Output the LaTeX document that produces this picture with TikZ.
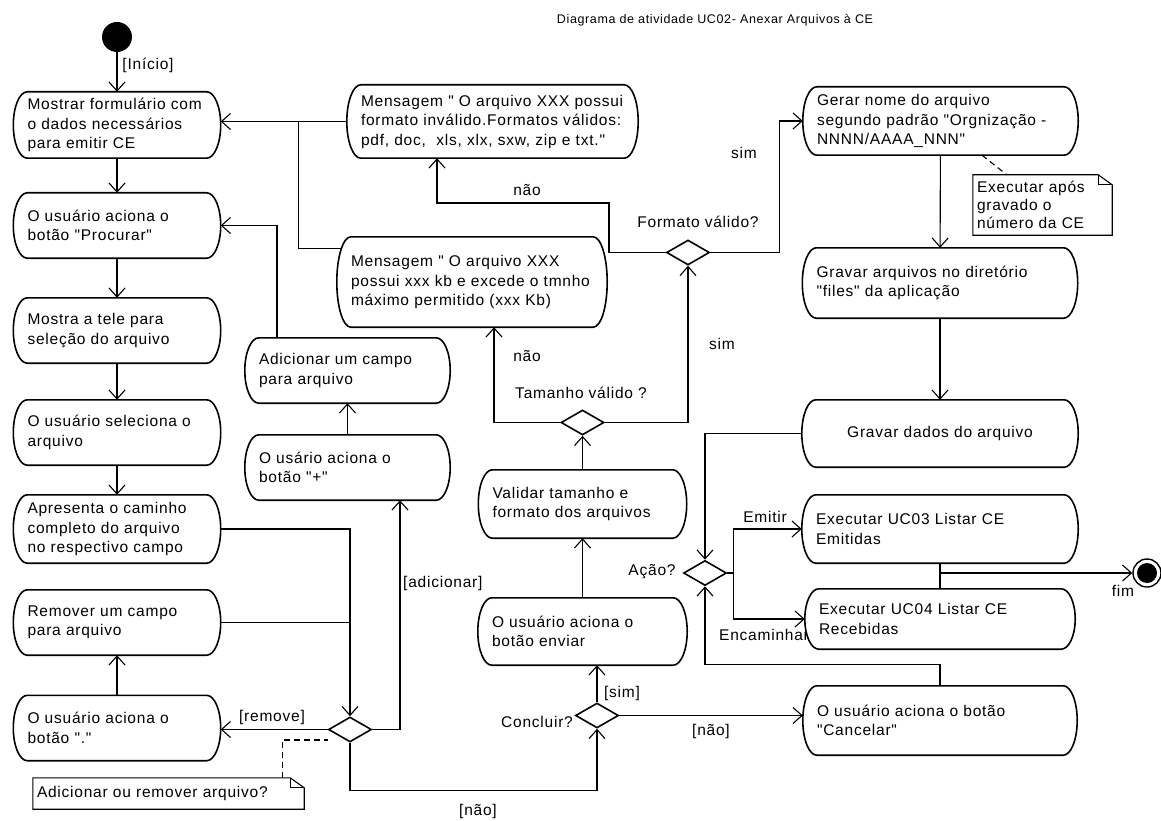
\documentclass[tikz,border=0pt]{standalone}
\usepackage{fontspec}
\setmainfont{Liberation Sans}[LetterSpace=5, Ligatures=TeXOff]
\usetikzlibrary{arrows.meta,shapes.geometric,calc}
\newcommand\boxfont{\fontsize{15.5pt}{19.5pt}\selectfont}
\newcommand\notefont{\fontsize{15.5pt}{18pt}\selectfont}
\newcommand\titlefont{\fontsize{12.5pt}{15pt}\selectfont}
\pgfdeclarelayer{under}
\pgfdeclarelayer{boxes}
\pgfsetlayers{under,boxes,main}

\begin{document}
\begin{tikzpicture}[x=1pt,y=-1pt,
  act/.style={font=\boxfont, align=left, inner xsep=14pt, inner ysep=0pt},
  actline/.style={draw, line width=1.6pt, fill=white},
  dec/.style={draw, diamond, line width=1.6pt, fill=white, minimum width=43pt,
    minimum height=25pt, inner sep=0pt},
  flow/.style={line width=1.1pt, -{Straight Barb[length=9pt,width=16pt]}},
  link/.style={line width=1.1pt},
  lbl/.style={font=\boxfont, inner sep=0pt},
  notebox/.style={font=\notefont, inner xsep=4pt, inner ysep=0pt, align=left},
  noteline/.style={line width=1.1pt},
  anchorline/.style={line width=1.1pt, dash pattern=on 6pt off 4pt}
]
% canvas
\begin{pgfonlayer}{under}
\fill[white] (0,0) rectangle (1161,821);
% label partly hidden behind the UC04 action
\node[lbl, anchor=west] (lenc) at (719,635) {Encaminhar};
\end{pgfonlayer}
\useasboundingbox (0,0) rectangle (1161,821);

\node[font=\titlefont, inner sep=0pt] (title) at (715,20) {Diagrama de atividade UC02- Anexar Arquivos à CE};

% initial and final nodes
\node[circle, fill=black, minimum size=30pt, inner sep=0pt] (start) at (117,37) {};
\node[circle, draw, line width=1.4pt, fill=white, minimum size=28pt, inner sep=0pt] (fin) at (1147,573) {};
\fill (fin.center) circle (10pt);

% left column
\node[act, text width=179pt, minimum height=66pt] (b1) at (117,125) {Mostrar formulário com\\o dados necessários\\para emitir CE};
\node[act, text width=179pt, minimum height=65pt] (b2) at (117,225.5) {O usuário aciona o\\botão "Procurar"};
\node[act, text width=179pt, minimum height=65pt] (b3) at (117,330.5) {Mostra a tele para\\seleção do arquivo};
\node[act, text width=179pt, minimum height=65pt] (b4) at (117,432.5) {O usuário seleciona o\\arquivo};
\node[act, text width=179pt, minimum height=68pt] (b5) at (117,529) {Apresenta o caminho\\completo do arquivo\\no respectivo campo};
\node[act, text width=179pt, minimum height=65pt] (b6) at (117,622.5) {Remover um campo\\para arquivo};
\node[act, text width=179pt, minimum height=65pt] (b7) at (117,728) {O usuário aciona o\\botão "."};

% second column
\node[act, text width=177pt, minimum height=65pt] (addc) at (347.5,370.5) {Adicionar um campo\\para arquivo};
\node[act, text width=177pt, minimum height=65pt] (plus) at (347.5,467.5) {O usário aciona o\\botão "+"};

% messages
\node[act, text width=263pt, minimum height=73pt] (msg1) at (492.5,121.5) {Mensagem " O arquivo XXX possui\\formato inválido.Formatos válidos:\\pdf, doc,\ \ xls, xlx, sxw, zip e txt."};
\node[act, text width=242pt, minimum height=90pt] (msg2) at (472,282) {Mensagem " O arquivo XXX\\possui xxx kb e excede o tmnho\\máximo permitido (xxx Kb)};

% middle column
\node[act, text width=180pt, minimum height=68pt] (valid) at (582.5,504) {Validar tamanho e\\formato dos arquivos};
\node[act, text width=181pt, minimum height=67pt] (enviar) at (582.5,631.5) {O usuário aciona o\\botão enviar};

% right column
\node[act, text width=247pt, minimum height=68pt] (gerar) at (940.5,121) {Gerar nome do arquivo\\segundo padrão "Orgnização -\\NNNN/AAAA\_NNN"};
\node[act, text width=247pt, minimum height=70pt] (gravarq) at (940,283) {Gravar arquivos no diretório\\"files" da aplicação};
\node[act, text width=248pt, minimum height=67pt, align=center] (gravd) at (940,433.5) {Gravar dados do arquivo};
\node[act, text width=248pt, minimum height=68pt] (uc03) at (940,529) {Executar UC03 Listar CE\\Emitidas};
\node[act, text width=242pt, minimum height=60pt] (uc04) at (940,619) {Executar UC04 Listar CE\\Recebidas};
\node[act, text width=246pt, minimum height=69pt] (cancel) at (940,720.5) {O usuário aciona o botão\\"Cancelar"};

% action outlines: straight top and bottom, half-elliptic ends
\begin{pgfonlayer}{boxes}
\foreach \bx in {b1,b2,b3,b4,b5,b6,b7,addc,plus,msg1,msg2,valid,enviar,gerar,gravarq,gravd,uc03,uc04,cancel}{
  \path[actline] let \p1=(\bx.north west), \p2=(\bx.south east), \p3=(\bx.center) in
    (\x1+14pt,\y1) -- (\x2-14pt,\y1)
    .. controls (\x2-6.27pt,\y1) and (\x2,{\y3+0.5523*(\y1-\y3)}) .. (\x2,\y3)
    .. controls (\x2,{\y3+0.5523*(\y2-\y3)}) and (\x2-6.27pt,\y2) .. (\x2-14pt,\y2)
    -- (\x1+14pt,\y2)
    .. controls (\x1+6.27pt,\y2) and (\x1,{\y3+0.5523*(\y2-\y3)}) .. (\x1,\y3)
    .. controls (\x1,{\y3+0.5523*(\y1-\y3)}) and (\x1+6.27pt,\y1) .. (\x1+14pt,\y1) -- cycle;
}
\end{pgfonlayer}

% decisions
\node[dec] (d1) at (350,729.5) {};
\node[dec] (d2) at (688,252.5) {};
\node[dec] (d3) at (705,573) {};
\node[dec] (d4) at (597,715.5) {};
\node[dec] (d5) at (582.5,422.5) {};

% notes
\node[notebox, text width=263pt, minimum height=31pt] (n1) at (168.5,793.5) {Adicionar ou remover arquivo?};
\node[notebox, text width=131pt, minimum height=60pt] (n2) at (1042.5,205) {Executar após\\gravado o\\número da CE};
\foreach \n in {n1,n2}{
  \draw[noteline] (\n.south west) -- (\n.north west) -- ($(\n.north east)+(-14,0)$)
    -- ($(\n.north east)+(0,10)$) -- (\n.south east) -- cycle;
  \draw[noteline] ($(\n.north east)+(-14,0)$) -- ($(\n.north east)+(-14,10)$) -- ($(\n.north east)+(0,10)$);
}

% guard labels
\node[lbl] (lstart) at (148,65) {[Início]};
\node[lbl] (lrem) at (272,717) {[remove]};
\node[lbl, anchor=west] (ladd) at (403,583) {[adicionar]};
\node[lbl] (lnao1) at (478,811) {[não]};
\node[lbl] (lconc) at (537,722) {Concluir?};
\node[lbl] (lsim1) at (622,693) {[sim]};
\node[lbl] (lnao2) at (711,731) {[não]};
\node[lbl] (lacao) at (652,572) {Ação?};
\node[lbl] (lemit) at (765,517) {Emitir};
\node[lbl] (lfim) at (1123,591) {fim};
\node[lbl] (ltam) at (581,393) {Tamanho válido ?};
\node[lbl] (lnao3) at (527,356) {não};
\node[lbl] (lsim2) at (722,344) {sim};
\node[lbl] (lnao4) at (527,190) {não};
\node[lbl] (lfmt) at (698,222) {Formato válido?};
\node[lbl] (lsim3) at (744,153) {sim};

% flows, left column
\draw[flow] (start) -- (b1);
\draw[flow] (b1) -- (b2);
\draw[flow] (b2) -- (b3);
\draw[flow] (b3) -- (b4);
\draw[flow] (b4) -- (b5);
\draw[flow] (b5.east) -| (d1.north);
\draw[link] (b6.east) -- (b6.east -| d1.north);
\draw[flow] (d1.west) -- (d1.west -| b7.east);
\draw[flow] (b7) -- (b6);
\draw[flow] (d1.east) -| ($(plus.south)+(52.5,0)$);
\draw[flow] (plus) -- (addc);
\draw[flow] ($(addc.north)+(-70.5,0)$) |- (b2.east);
\draw[flow] (d1.south) -- ++(0,48) -| (d4.south);
\draw[anchorline] ($(n1.north east)+(-22,0)$) |- ($(d1.west)+(0,10.5)$);

% flows, submission and validation
\draw[flow] (d4.north) -- (d4.north |- enviar.south);
\draw[flow] (d4.east) -- (d4.east -| cancel.west);
\draw[flow] (enviar) -- (valid);
\draw[flow] (valid) -- (d5);
\draw[flow] (d5.west) -| ($(msg2.south)+(22,0)$);
\draw[flow] (d5.east) -| (d2.south);
\draw[flow] (d2.west) -| (609,203) -| ($(msg1.south)+(-55.5,0)$);
\draw[flow] (d2.east) -| ($(gerar.west)+(-23,0)$) -- (gerar.west);
\draw[flow] (msg1.west) -- (msg1.west -| b1.east);
\draw[link] ($(msg2.north west)+(4,12)$) -| ($(msg1.west)+(-48,0)$);

% flows, right column
\draw[flow] (gerar) -- (gravarq);
\draw[anchorline] ($(gerar.south)+(41.5,0)$) -- ($(n2.north west)+(34,0)$);
\draw[flow] (gravarq) -- (gravd);
\draw[flow] (gravd.west) -| (d3.north);
\draw[flow] (d3.east) -- ++(6,0) |- (uc03.west);
\draw[flow] (d3.east) -- ++(6,0) |- (uc04.west);
\draw[link] (uc03.south) -- (uc04.north);
\draw[flow] (uc03.south |- fin.west) -- (fin.west);
\draw[flow] (cancel.north) -- ++(0,-21) -| (d3.south);
\end{tikzpicture}
\end{document}
